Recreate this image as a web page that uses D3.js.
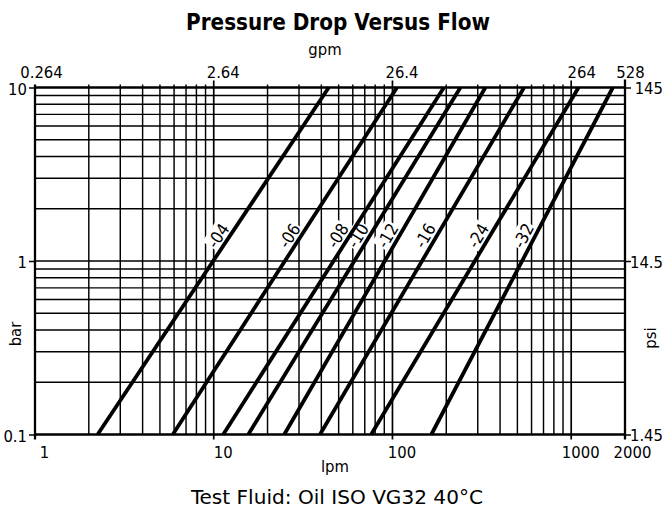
<!DOCTYPE html>
<html>
<head>
<meta charset="utf-8">
<script src="https://cdn.jsdelivr.net/npm/d3@7"></script>
<style>
  html, body { margin: 0; padding: 0; background: #fff; }
  svg { display: block; }
  text { font-family: 'Liberation Sans Narrow', 'Arial Narrow', 'DejaVu Sans Condensed', 'Roboto Condensed', sans-serif; fill: #000; }
</style>
</head>
<body>
<svg id="chart" width="665" height="511"></svg>
<script>
// Fitting sizes and their flow (lpm) at the two ends of the pressure range
const sizes      = ["-04", "-06", "-08", "-10", "-12", "-16", "-24", "-32"];
const flowAt01   = [2.24, 5.9, 11.3, 15.6, 24.8, 39.3, 76, 165];     // lpm at 0.1 bar
const flowAt10   = [44, 106, 194, 240, 331, 545, 1100, 1710];        // lpm at 10 bar
const pressureEnds = [0.1, 10];                                       // bar

// Axis ticks
const lpmTicks  = [1, 10, 100, 1000, 2000];
const lpmLabels = ["1", "10", "100", "1000", "2000"];
const gpmLabels = ["0.264", "2.64", "26.4", "264", "528"];
const barTicks  = [0.1, 1, 10];
const barLabels = ["0.1", "1", "10"];
const psiLabels = ["1.45", "14.5", "145"];

const labelPressure = 1.4; // bar, where the size tags sit

const svg = d3.select("#chart");
const plotL = 35, plotR = 625, plotT = 87.5, plotB = 434.5;

const x = d3.scaleLog().domain([1, 2000]).range([plotL, plotR]);
const y = d3.scaleLog().domain([0.1, 10]).range([plotB, plotT]);

// grid values: every unit inside each decade
const xGrid = [];
[1, 10, 100].forEach(dec => { for (let k = 1; k <= 9; k++) xGrid.push(k * dec); });
xGrid.push(1000, 2000);
const yGrid = [];
[0.1, 1].forEach(dec => { for (let k = 1; k <= 9; k++) yGrid.push(+(k * dec).toFixed(2)); });
yGrid.push(10);

const grid = svg.append("g").attr("stroke", "#000").attr("fill", "none");

// horizontal grid lines
grid.selectAll("line.h")
  .data(yGrid.filter(v => v !== 0.1 && v !== 10))
  .join("line")
  .attr("class", "h")
  .attr("x1", plotL).attr("x2", plotR)
  .attr("y1", d => y(d)).attr("y2", d => y(d))
  .attr("stroke-width", 1.45);

// vertical grid lines (decades reach a bit further above and below)
const isDecade = v => [10, 100, 1000].includes(v);
grid.selectAll("line.v")
  .data(xGrid.filter(v => v !== 1 && v !== 2000))
  .join("line")
  .attr("class", "v")
  .attr("x1", d => x(d)).attr("x2", d => x(d))
  .attr("y1", d => y(10) - (isDecade(d) ? 7 : 3))
  .attr("y2", d => y(0.1) + (isDecade(d) ? 5 : 0))
  .attr("stroke-width", d => isDecade(d) ? 1.7 : 1.45);

// frame
grid.append("line").attr("x1", plotL).attr("x2", plotR).attr("y1", y(10)).attr("y2", y(10)).attr("stroke-width", 2.5);
grid.append("line").attr("x1", plotL).attr("x2", plotR).attr("y1", y(0.1)).attr("y2", y(0.1)).attr("stroke-width", 2.5);
grid.append("line").attr("x1", plotL).attr("x2", plotL).attr("y1", y(10) - 3).attr("y2", y(0.1) + 5).attr("stroke-width", 2.3);
grid.append("line").attr("x1", plotR).attr("x2", plotR).attr("y1", y(10) - 8).attr("y2", y(0.1) + 5).attr("stroke-width", 2.3);

// axes (tick marks + labels)
function styleAxis(g) {
  g.select(".domain").remove();
  g.selectAll(".tick line").attr("stroke", "#000").attr("stroke-width", 1.5);
  g.selectAll(".tick text").attr("font-size", 16.5).attr("fill", "#000");
}

const axBottom = svg.append("g").attr("transform", `translate(0,${plotB})`)
  .call(d3.axisBottom(x).tickValues(lpmTicks).tickFormat((d, i) => lpmLabels[i]).tickSize(0).tickPadding(12));
styleAxis(axBottom);
axBottom.selectAll(".tick text").attr("dx", (d, i) => i === 4 ? 7 : 9);

const axTop = svg.append("g").attr("transform", `translate(0,${plotT})`)
  .call(d3.axisTop(x).tickValues(lpmTicks).tickFormat((d, i) => gpmLabels[i]).tickSize(0).tickPadding(10));
styleAxis(axTop);
axTop.selectAll(".tick text").attr("dx", (d, i) => [6, 9, 9, 10, 5][i]);

const axLeft = svg.append("g").attr("transform", `translate(${plotL},0)`)
  .call(d3.axisLeft(y).tickValues(barTicks).tickFormat((d, i) => barLabels[i]).tickSize(6).tickPadding(2));
styleAxis(axLeft);
axLeft.selectAll(".tick text").attr("dy", "0.42em");

const axRight = svg.append("g").attr("transform", `translate(${plotR},0)`)
  .call(d3.axisRight(y).tickValues(barTicks).tickFormat((d, i) => psiLabels[i]).tickSize(6).tickPadding(3));
styleAxis(axRight);
axRight.selectAll(".tick text").attr("text-anchor", "end").attr("x", 663 - plotR).attr("dy", "0.38em");

// flow at a given pressure along each straight (log-log) characteristic
function flowAt(i, p) {
  const t = (Math.log10(p) - Math.log10(pressureEnds[0])) / (Math.log10(pressureEnds[1]) - Math.log10(pressureEnds[0]));
  return Math.pow(10, Math.log10(flowAt01[i]) + t * (Math.log10(flowAt10[i]) - Math.log10(flowAt01[i])));
}

const series = sizes.map((s, i) => ({
  size: s,
  pts: [[flowAt01[i], pressureEnds[0]], [flowAt10[i], pressureEnds[1]]],
  i
}));

// size tags: white backing boxes, then lines, then the text
const tagLayer = svg.append("g");
const lineLayer = svg.append("g");
const textLayer = svg.append("g");

const line = d3.line().x(d => x(d[0])).y(d => y(d[1]));
lineLayer.selectAll("path")
  .data(series)
  .join("path")
  .attr("d", d => line(d.pts))
  .attr("fill", "none")
  .attr("stroke", "#000")
  .attr("stroke-width", 3.8);

series.forEach(d => {
  const x0 = x(d.pts[0][0]), y0 = y(d.pts[0][1]);
  const x1 = x(d.pts[1][0]), y1 = y(d.pts[1][1]);
  const ang = Math.atan2(y1 - y0, x1 - x0) * 180 / Math.PI;
  const cx = x(flowAt(d.i, labelPressure)) - 12;
  const cy = y(labelPressure);
  const t = textLayer.append("text")
    .attr("transform", `translate(${cx},${cy}) rotate(${ang})`)
    .attr("text-anchor", "middle")
    .attr("dy", "0.36em")
    .attr("font-size", 17)
    .text(d.size);
  const bb = t.node().getBBox();
  tagLayer.append("rect")
    .attr("transform", `translate(${cx},${cy}) rotate(${ang})`)
    .attr("x", bb.x - 1).attr("y", bb.y)
    .attr("width", bb.width + 2).attr("height", bb.height)
    .attr("fill", "#fff");
});

// titles
svg.append("text").attr("x", 338).attr("y", 30).attr("text-anchor", "middle")
  .attr("font-size", 22.5).attr("font-weight", "bold")
  .attr("textLength", 304).attr("lengthAdjust", "spacingAndGlyphs")
  .text("Pressure Drop Versus Flow");
svg.append("text").attr("x", 325).attr("y", 55).attr("text-anchor", "middle")
  .attr("font-size", 16.5).text("gpm");
svg.append("text").attr("x", 335).attr("y", 472).attr("text-anchor", "middle")
  .attr("font-size", 16.5).text("lpm");
svg.append("text").attr("x", 337).attr("y", 504).attr("text-anchor", "middle")
  .attr("font-size", 19)
  .attr("textLength", 292).attr("lengthAdjust", "spacingAndGlyphs")
  .text("Test Fluid: Oil ISO VG32 40°C");
svg.append("text").attr("transform", "translate(21,334) rotate(-90)").attr("text-anchor", "middle")
  .attr("font-size", 16.5).text("bar");
svg.append("text").attr("transform", "translate(656,338) rotate(-90)").attr("text-anchor", "middle")
  .attr("font-size", 16.5).text("psi");
</script>
</body>
</html>
